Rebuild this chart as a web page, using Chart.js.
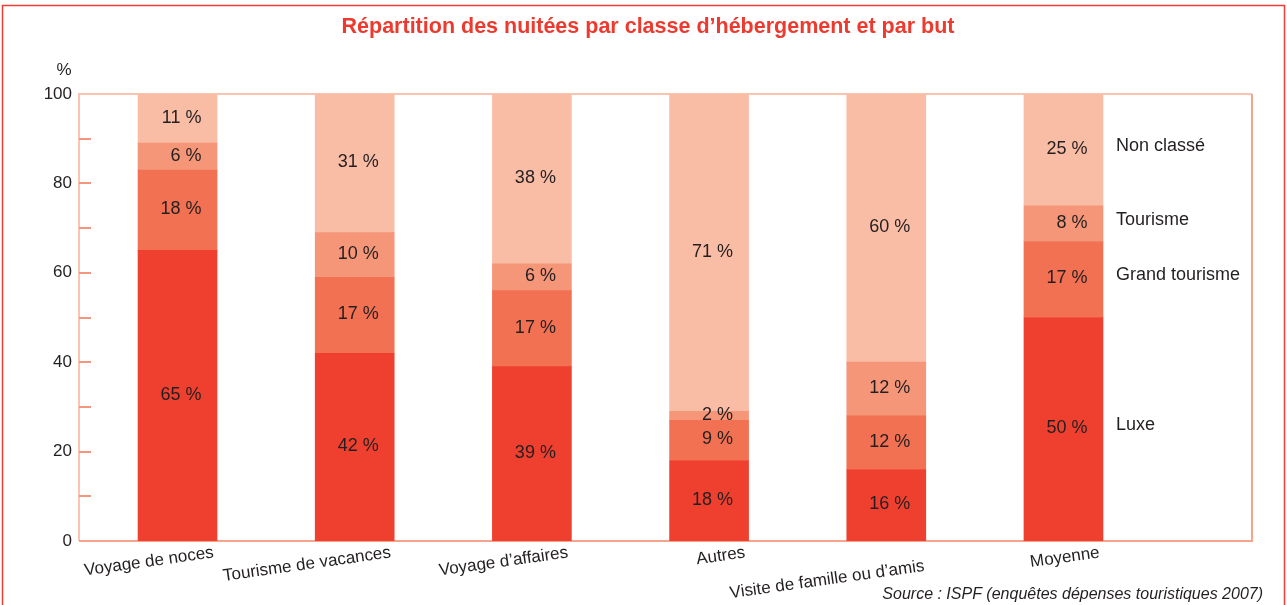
<!DOCTYPE html>
<html>
<head>
<meta charset="utf-8">
<script src="https://cdn.jsdelivr.net/npm/chart.js@4"></script>
<style>
  html, body { margin: 0; padding: 0; background: #fff; }
  #wrap { width: 1287px; height: 605px; }
</style>
</head>
<body>
<div id="wrap"><canvas id="nuitees" width="1287" height="605"></canvas></div>
<script>
// données
const categories = ['Voyage de noces', 'Tourisme de vacances', 'Voyage d\u2019affaires', 'Autres', ['', 'Visite de famille ou d\u2019amis'], 'Moyenne']
const luxe = [65, 42, 39, 18, 16, 50]
const grandTourisme = [18, 17, 17, 9, 12, 17]
const tourisme = [6, 10, 6, 2, 12, 8]
const nonClasse = [11, 31, 38, 71, 60, 25]
const seriesNames = ['Luxe', 'Grand tourisme', 'Tourisme', 'Non classé']
const yLabels = [0, 20, 40, 60, 80, 100]
const yMinorTicks = [10, 20, 30, 40, 50, 60, 70, 80, 90]

const FONT = "'Liberation Sans', Arial, Helvetica, sans-serif"
const TEXT = '#231f20'
const colors = ['#ef402f', '#f27152', '#f59679', '#f9bda6']

function points(values) {
    return values.map((v, i) => ({ x: i, y: v }))
}

const allSeries = [luxe, grandTourisme, tourisme, nonClasse]

// cadre, petites graduations et étiquettes
const decorPlugin = {
    id: 'decor',
    beforeDatasetsDraw(chart) {
        const ctx = chart.ctx
        const a = chart.chartArea
        const y = chart.scales.y
        ctx.save()
        // cadre rouge extérieur
        ctx.strokeStyle = '#ee3b33'
        ctx.lineWidth = 1.5
        ctx.beginPath()
        ctx.moveTo(2.5, 605)
        ctx.lineTo(2.5, 5.5)
        ctx.lineTo(1284.5, 5.5)
        ctx.lineTo(1284.5, 605)
        ctx.stroke()
        // cadre du graphique
        ctx.lineWidth = 2
        ctx.strokeStyle = '#fbc4b1'
        ctx.beginPath()
        ctx.moveTo(a.left, a.bottom)
        ctx.lineTo(a.left, a.top)
        ctx.lineTo(a.right, a.top)
        ctx.stroke()
        ctx.strokeStyle = '#f6a48c'
        ctx.beginPath()
        ctx.moveTo(a.right, a.top)
        ctx.lineTo(a.right, a.bottom)
        ctx.lineTo(a.left, a.bottom)
        ctx.stroke()
        // graduations vers l'intérieur
        ctx.strokeStyle = '#f4967c'
        ctx.lineWidth = 2
        yMinorTicks.forEach(v => {
            const py = Math.round(y.getPixelForValue(v))
            ctx.beginPath()
            ctx.moveTo(a.left, py)
            ctx.lineTo(a.left + 12, py)
            ctx.stroke()
        })
        ctx.restore()
    },
    afterDatasetsDraw(chart) {
        const ctx = chart.ctx
        ctx.save()
        ctx.fillStyle = TEXT
        ctx.font = '18px ' + FONT
        ctx.textBaseline = 'middle'
        // valeurs dans les segments
        chart.data.datasets.forEach((ds, d) => {
            const meta = chart.getDatasetMeta(d)
            meta.data.forEach((bar, i) => {
                ctx.textAlign = 'right'
                ctx.fillText(allSeries[d][i] + ' %', bar.x + 24, (bar.y + bar.base) / 2 - 1)
                // noms des classes à droite de la dernière barre
                if (i === categories.length - 1) {
                    ctx.textAlign = 'left'
                    ctx.fillText(seriesNames[d], bar.x + bar.width / 2 + 13, (bar.y + bar.base) / 2 - 4)
                }
            })
        })
        // unité
        ctx.font = '17px ' + FONT
        ctx.textAlign = 'center'
        ctx.fillText('%', 64, 70)
        // source
        ctx.textAlign = 'right'
        ctx.font = 'italic 16px ' + FONT
        ctx.fillText('Source : ISPF (enquêtes dépenses touristiques 2007)', 1263, 595)
        ctx.restore()
    }
}

const config = {
    type: 'bar',
    data: {
        datasets: seriesNames.map((name, d) => ({
            label: name,
            data: points(allSeries[d]),
            backgroundColor: colors[d],
            borderWidth: 0,
            barThickness: 79
        }))
    },
    options: {
        responsive: false,
        animation: false,
        layout: { padding: { left: 44, right: 35, top: 0, bottom: 0 } },
        plugins: {
            legend: { display: false },
            tooltip: { enabled: false },
            title: {
                display: true,
                text: 'Répartition des nuitées par classe d\u2019hébergement et par but',
                color: '#ed3a2f',
                font: { family: FONT, size: 21.5, weight: 'bold' },
                padding: { top: 14, bottom: 54.2 }
            }
        },
        scales: {
            x: {
                type: 'linear',
                stacked: true,
                offset: false,
                min: -0.556,
                max: 6.064,
                grid: { display: false },
                border: { display: false },
                afterFit(scale) { scale.height = 64 },
                ticks: {
                    stepSize: 1,
                    includeBounds: false,
                    autoSkip: false,
                    minRotation: 8,
                    maxRotation: 8,
                    labelOffset: 36,
                    padding: -3,
                    color: TEXT,
                    font: { family: FONT, size: 17, lineHeight: 0.8 },
                    callback: v => categories[v] ?? ''
                }
            },
            y: {
                stacked: true,
                min: 0,
                max: 100,
                grid: { display: false, drawTicks: false },
                border: { display: false },
                afterFit(scale) { scale.width = 35 },
                ticks: {
                    stepSize: 20,
                    padding: 7,
                    color: TEXT,
                    font: { family: FONT, size: 17 },
                    callback: v => yLabels.includes(v) ? v : ''
                }
            }
        }
    },
    plugins: [decorPlugin]
}

const ctxNuitees = document.getElementById('nuitees').getContext('2d')
new Chart(ctxNuitees, config)
</script>
</body>
</html>
